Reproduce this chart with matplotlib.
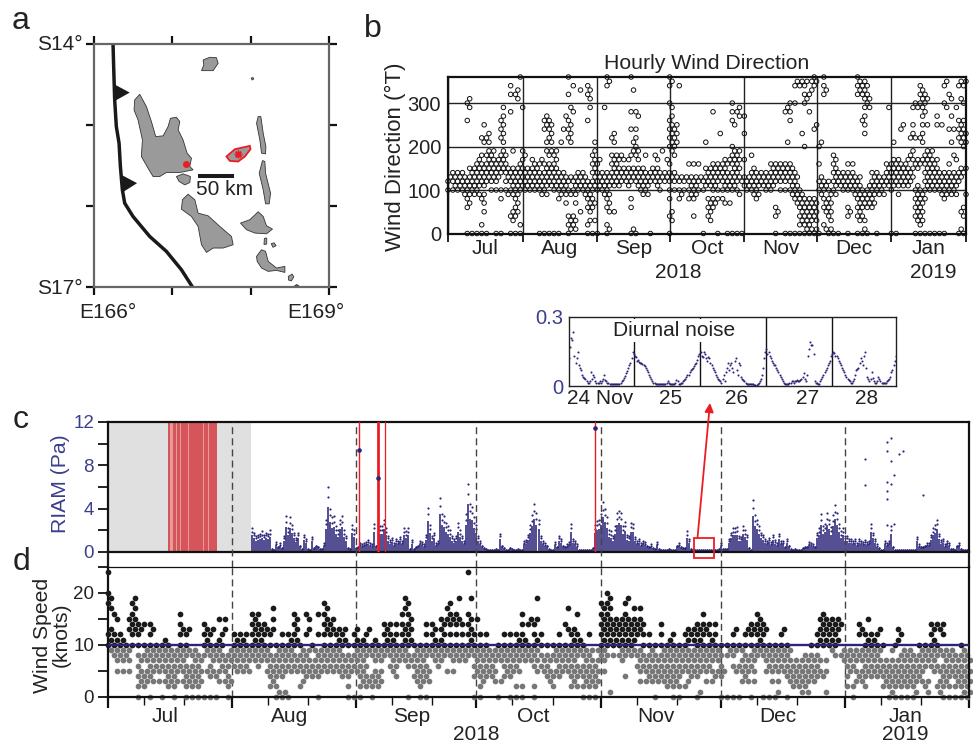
import numpy as np
import matplotlib
matplotlib.use("Agg")
import matplotlib.pyplot as plt
from matplotlib.patches import Polygon, Rectangle, FancyArrowPatch
from matplotlib.ticker import FixedLocator

plt.rcParams['font.family'] = ['Liberation Sans', 'DejaVu Sans']

W, H = 973, 744
BLUE = '#2b2478'
LBL_BLUE = '#3b3f8c'
TXT = '#222222'

MONTH_EDGES = [0, 31, 62, 92, 123, 153, 184, 215]
MONTH_NAMES = ['Jul', 'Aug', 'Sep', 'Oct', 'Nov', 'Dec', 'Jan']

# ---------- map (a), lon / lat ----------
santo = [(166.520,-14.690),(166.584,-14.621),(166.669,-14.773),(166.733,-14.958),(166.788,-15.143),(166.882,-15.134),(166.946,-15.019),(166.976,-14.917),(167.052,-14.904),(167.095,-14.958),(167.074,-15.060),(167.137,-15.184),(167.189,-15.348),(167.244,-15.410),(167.223,-15.512),(167.265,-15.554),(167.095,-15.586),(166.924,-15.586),(166.839,-15.636),(166.754,-15.636),(166.690,-15.533),(166.605,-15.389),(166.618,-15.184),(166.562,-14.937),(166.511,-14.814)]
gaua = [(167.393,-14.197),(167.478,-14.164),(167.563,-14.169),(167.585,-14.238),(167.521,-14.329),(167.372,-14.329),(167.402,-14.259)]
maewo = [(168.096,-14.896),(168.130,-14.896),(168.160,-15.101),(168.194,-15.266),(168.190,-15.356),(168.139,-15.348),(168.117,-15.184),(168.075,-14.978)]
pentecost = [(168.151,-15.439),(168.181,-15.451),(168.190,-15.595),(168.254,-15.841),(168.237,-15.973),(168.190,-15.973),(168.160,-15.800),(168.109,-15.595)]
malo = [(167.052,-15.636),(167.137,-15.603),(167.231,-15.636),(167.223,-15.710),(167.159,-15.739),(167.086,-15.697)]
malekula = [(167.129,-15.923),(167.201,-15.854),(167.287,-15.923),(167.329,-16.088),(167.457,-16.121),(167.606,-16.252),(167.755,-16.376),(167.776,-16.478),(167.649,-16.519),(167.521,-16.519),(167.436,-16.573),(167.372,-16.478),(167.329,-16.252),(167.244,-16.129),(167.116,-16.039)]
ambrym = [(167.870,-16.211),(167.989,-16.170),(168.096,-16.071),(168.160,-16.129),(168.202,-16.244),(168.279,-16.285),(168.202,-16.343),(168.053,-16.334),(167.947,-16.293)]
epi = [(168.075,-16.622),(168.139,-16.540),(168.190,-16.560),(168.224,-16.684),(168.330,-16.766),(168.437,-16.745),(168.437,-16.820),(168.330,-16.795),(168.224,-16.807),(168.139,-16.766),(168.083,-16.684)]
islet_a = [(168.005,-14.420),(168.030,-14.415),(168.040,-14.430),(168.020,-14.445)]
islet_b = [(168.175,-16.400),(168.205,-16.395),(168.205,-16.470),(168.170,-16.475)]
islet_c = [(168.262,-16.465),(168.300,-16.455),(168.325,-16.490),(168.285,-16.510)]
islet_d = [(168.480,-16.870),(168.530,-16.840),(168.550,-16.875),(168.520,-16.925),(168.485,-16.915)]
islet_e = [(168.560,-16.985),(168.590,-16.970),(168.620,-16.990)]
ambae = [(167.691,-15.389),(167.798,-15.299),(167.989,-15.258),(167.998,-15.299),(167.926,-15.389),(167.840,-15.451),(167.734,-15.443)]
trench_lon = [166.243,166.251,166.264,166.285,166.320,166.337,166.362,166.392,166.498,166.711,166.924,167.116,167.257]
trench_lat = [-14.0,-14.279,-14.690,-15.019,-15.225,-15.513,-15.800,-15.965,-16.129,-16.376,-16.560,-16.787,-17.0]
tooth_a = [(166.251,-14.493),(166.456,-14.600),(166.251,-14.711)]
tooth_b = [(166.349,-15.615),(166.550,-15.718),(166.349,-15.841)]
vent_lon, vent_lat = 167.840, -15.360
station_lon, station_lat = 167.180, -15.484
scale_lon = [167.329, 167.785]
scale_lat = [-15.628, -15.628]

# ---------- hourly wind direction (b), tens of degrees, one column every 2 days ----------
direction_tens = [
[10,12,13],[10,11,12,13,14],[10,11,12,13,14],[9,10,11,12,13,14],[31,30,29,26,15,13,12,11,10,9,8,7,6,0],
[15,14,13,12,11,10,9,0],[17,16,15,14,13,12,11,10,9,0],[25,22,21,18,16,15,14,13,12,11,9,8,7,5,2,0],
[23,22,21,19,18,17,16,15,14,13,12,0],[19,18,17,16,15,14,13,12,10],[17,16,15,14,13,12,10,0],
[29,27,26,25,24,23,22,21,19,18,17,16,15,14,10,8,0],[18,16,15,14,13,12,10,9],
[34,32,28,19,15,14,13,12,11,10,9,5,4,3,0],[33,32,31,15,14,13,12,11,10,9,8,7,6,5,4,0],
[36,29,19,17,16,15,14,13,12,11,10,2,0],
[18,15,14,13,12,11,10],[17,15,14,13,12,11,10],[16,15,14,13,12,11,10],[17,16,14,13,12,11,10,9,0],
[27,26,25,24,21,19,16,15,14,13,12,11,10,9,0],[26,25,24,23,22,21,19,18,16,15,14,13,12,11,0],
[19,18,17,16,15,14,13,12,11,10,0],[21,14,13,12,11,10,9,8,0],[27,24,14,13,12,11,10,9,7],
[36,32,29,26,25,24,23,22,21,13,12,10,9,4,3,2,1,0],[34,28,13,12,11,10,9,7,4,3,2,1],[33,14,13,12,11,10,5],
[14,13,12,11,10,9],[34,33,32,31,29,26,12,11,10,9,8,7,6,5,3,2,0],[21,19,18,17,16,15,14,13,12,11,10,8,7,6,3,0],
[17,16,14,13,12,11,10,0],[29,14,13,12,11,10,9],[36,35,34,14,13,12,11,10,9,8,7,6,5,2,1,0],
[23,22,21,18,17,16,15,14,13,12,11,5],[18,17,16,15,14,13,12,11],[18,17,15,14,13,12],[17,15,14,13,12,11],
[36,33,28,24,21,19,18,15,14,13,12,8,6,1,0],[28,27,24,22,20,19,18,17,15,14,13,12,11,0],[15,14,13,12,11,10,9],
[18,14,13,12,11,10,9],[15,14,13,12,0],[18,17,15,14,13,12,11],[19,14,13,12,10],[17,14,13,12],
[36,35,34,30,29,27,26,25,24,23,22,21,20,19,16,14,13,12,10,8,5,4,3,0],[25,24,23,22,21,20,18,14,13,12,10],
[34,13,12,10,9,8],[13,12,10],[16,13,12,11,10,9,8],[16,13,12,11,10,9,8,4],[16,13,12,10],[21,15,13,12,11,10,0],
[15,14,13,12,11,8,7,6,5,4,3],[28,16,15,14,13,12,11,10,8,7,6],[23,16,15,14,13,12,10,8,0],
[17,16,15,14,13,12,11,10,8,7],[17,16,14,13,12,11,10,7,0],[30,28,26,25,20,19,18,17,16,15,14,13,12,11,10,0],
[29,28,27,19,18,17,16,15,14,13,12,10,9,0],[27,23,17,13,12,11,0],
[13,12,11,10],[18,15,14,13,12,11,10,9],[14,13,12,11,10,9,8],[14,13,12,11],[14,13,12,11,10],
[16,15,14,13,12,11,10],[16,15,14,13,12,6,5,4,0],[16,15,14,13,12,10],[29,28,21,16,15,14,13,12,10,0],
[30,28,26,16,15,14,13,12,11,10,9,0],[35,34,30,14,13,12,11,10,9,8,7,0],[35,34,23,10,9,8,7,6,5,4,3,2,0],
[35,34,32,31,30,20,8,7,6,5,4,3,2,1,0],[35,33,32,28,8,7,6,5,4,3,2,1,0],[36,35,34,25,24,8,7,6,5,4,3,1,0],
[21,20,16,13,12,11,10,9,0],[36,34,33,32,12,11,10,8,7,6,5,2,1],[12,10,9,8,7,6,5,4,3,1,0],
[18,17,16,15,14,13,12,11,10,9,0],[14,13,12,11,0],[14,13,12,11,10],[16,14,13,12,11,10,6,5,4,0],
[16,14,13,12,11,10,9],[36,35,34,33,32,13,12,11,10,9,8,7,6,5,4,3,0],[35,34,33,32,31,29,27,26,25,23,10,9,8,7,6,4,3,1,0],
[34,32,31,30,29,11,10,9,8,7,6,0],[14,13,12,11,10,9,8,7,6],[14,13,12,11,10,9,0],[13,12,11,10,9],
[29,16,15,14,13,12,11],[21,17,16,15,14,13,12,11,10,0],[17,16,15,14,13,12,11,9,0],[25,24,16,15,14,13,12,11],
[17,16,15,14,13,12,11],[29,25,23,22,19,18,17,15,14,13,12],[30,29,22,17,16,15,11,10,9,8,7,6,5,4,3,0],
[34,33,32,31,30,29,27,25,23,22,21,17,16,10,9,8,7,6,5,4,3,2,0],[32,31,30,28,25,19,18,17,16,15,14,13,12,11,10,8,0],
[19,18,17,16,15,14,13,12,11,10,0],[27,25,17,16,15,14,13,12,11,10,0],[25,14,13,12,11,10,9,0],
[35,34,30,29,14,13,12,11,10,9,8,0],[32,31,27,24,21,16,14,13,12,11,10,9],[29,24,18,17,14,13,12,11,10,9],
[35,34,31,26,25,24,23,22,21,15,14,13,12,5,1,0],[35,34,30,26,24,23,22,21,20,15,14,9,6,4,0],
]

# ---------- wind speed (d), knots, one column every 1.5 days ----------
speed_columns = [
[24,20,19,18,17,13,12,11,10,9],[16,15,12,11,10,9,8,7,5],[12,11,10,9,8,7,5],[15,13,10,9,8,7,5],
[19,18,17,16,15,14,13,12,10],[14,13,12,10,8,7,6,5,4,3,2,0],[14,10,9,8,7,5,4,3,2],[14,13,12,10,9,8,7,6,5,4,3,0],
[10,9,8,7,6,5,3],[11,10,9,8,7,6,5,3,0],[10,9,8,7,6,5,4,3,2],[9,8,7,6,5,4,3,2,0],[16,14,13,12,10,9,8,7,6,5,3],
[13,12,10,9,8,6,5,4,3,2,0],[9,8,7,6,5,4,3,2,0],[8,7,6,5,4,3,2,0],[14,13,12,11,10,9,8,5,0],[13,12,10,9,8,7,6,5,4,0],
[15,11,10,9,8,7,5,4,3,0],[15,13,12,10,8,7,6,5,3],[9,8,7,6,4,3,2,0],
[12,11,10,9,8,7,6,5],[12,11,10,9,8,7,6,5],[12,10,9,8,7,6,5],[16,15,14,13,12,11,10,9,8,7],[16,14,13,12,11,10,9,8,7,6],
[14,13,12,10,9,8,7,5],[17,15,13,12,10,8,7,6,5,4,3,2],[10,9,8,7,6,5,4,2,1,0],[12,10,9,8,7,6,5,4,1,0],[12,11,10,9,8,7,6,5,0],
[16,15,14,13,12,11,10,8,7,6,5],[10,9,8,7,6,5,3,2],[16,15,13,12,9,8,7,6,5,4],[10,9,7,6,5,4],[16,12,9,8,7,6,5,4,0],
[18,17,16,15,14,13,12,10,9,8,7,6,5],[15,14,13,12,10,9,8,7,6,5],[13,12,11,10,9,8,7,6,5],[13,12,11,10,8,7,6,5,4],
[10,8,7,6,5,4,2,0],[13,12,11,10,9,8,7,6,5,0],
[11,10,9,8,7,6,5,4,3,2,0],[13,12,10,9,8,6,4,3,2],[11,10,9,8,7,5,4,3,2,0],[10,9,8,7,5,4,3,2],[14,13,12,11,10,9,8],
[14,12,11,10,9,8,7,6,5],[14,12,10,9,8,7,6,4],[19,17,16,14,13,12,11,10,9,8,7],[18,16,15,14,13,12,11,10,8,7,6,0],
[10,9,8,7,6,5,4,3],[10,9,8,7,6,5,4,3,2,0],[14,12,10,9,8,6,5,4,3,0],[14,13,12,11,10,9,8,7],[15,13,11,10,9,8,7,6],
[17,15,14,12,10,9,8,5],[18,16,15,14,12,10,9,8,7,5],[19,16,15,14,12,10,9,8,7],[14,12,10,9,8,7],
[24,19,16,15,14,13,12,11,10,9,8],[15,12,10,9,8,7,6,5,4,0],
[12,10,9,8,7,6,5,4,3,2,0],[12,10,9,8,7,6,5,4],[9,8,7,6,5,4,3],[10,9,8,7,3,0],[12,10,9,8,7,6,5,4],[12,10,9,8,7,6,5,4,0],
[12,11,10,9,8,7,6,5,2,0],[16,14,12,11,10,9,8,7,2,0],[15,14,10,9,8,7],[19,15,14,12,11,10,9,8,7,6,5,2,0],[12,10,8,7,6,5],
[10,8,7,6,5,4,3],[10,9,8,7,5,4,2],[12,10,9,8,7,6,5,4],[17,14,13,10,9,8,7,6,5],[13,12,11,10,9,8,7,6,5,4,3,2],
[16,12,11,10,9,8,6,5,4,2],[10,9,8,7,6,5,4,3,2,0],[12,9,8,7,6,5,4,3,2,0],[9,7,6,5,4,3,2,0],
[18,17,16,15,14,13,12,11,10,9,8,7,5],[20,19,18,17,16,15,14,13,12,11,10,8,1],
[15,14,13,12,11,10,8],[15,14,13,12,11,10,9,8,7],[19,18,16,15,14,13,12,11,10,9,8,4],[17,15,14,13,12,11,10,9,8],
[17,15,14,13,12,9,8,7,6,5,3],[14,12,10,8,7,6,5,3],[12,10,9,8,7,6,5,4,3],[10,8,7,6,5,4,3,0],[14,12,10,9,8,7,6,5,4,3],
[11,10,9,8,7,6,5,4,3,2],[12,10,9,8,7,6,5,4,3,2,0],[10,9,8,7,6,5,4,2,0],[13,12,11,10,9,8,7,6,5,3,2],
[13,12,11,9,8,7,6,5,4],[14,13,12,11,10,9,8,7,6,5,4,1,0],[16,14,13,12,10,9,8,7,6,5,3],[14,12,11,10,9,8,7,6,5,3],
[14,12,10,9,8,7,5,4],[10,8,6,5,4,0],
[10,9,8,0],[13,12,10,9,8,6,5,0],[10,9,7,6,5,3,0],[13,12,10,8,7,6,5,4,3],[14,13,12,10,9,8,7,6,5,3,0],
[16,15,14,13,12,11,10,9,8],[14,13,12,10,9,8,7,5,0],[10,9,8,7,6,5,3,0],[10,9,8,7,6,5,3,1,0],[13,12,10,9,8,7,6,5],
[10,9,8,7,6,5,4,3,0],[7,6,5,4,3,2],[7,6,5,4,3,2,1],[8,7,6,5,4,3,2,1],[10,8,7,6,5,4,3],[15,13,12,11,10,8,7,6,5,4],
[16,15,14,13,12,11,10,7,5,4,1],[15,14,13,12,11,10,9],[15,14,13,12,11,10,8],[14,9,8,7],
[9,8,7,6,5,4,2],[9,8,7,6,5,3,2,0],[14,13,12,9,8,7,5,4,3],[15,12,11,10,9,8,7,6,5,4,2],[12,11,10,9,8,7,6,5,4],
[13,12,10,9,8,7,6,5,4],[10,7,6,5,4,3,2],[9,7,6,5,4,3,2,1,0],[13,11,10,7,6,5,4,3,2,0],[12,9,8,7,6,5,4,3,2,0],
[9,8,7,6,5,4,3,2,0],[8,7,6,5,4,3,2,1,0],[10,9,8,7,6,5,4,3],[10,9,8,7,6,3,2,1],[14,13,12,11,10,9,8,7,6,5],
[14,13,10,9,8,6,5,3,2,1],[14,12,9,8,7,6,5,4,3,2,0],[9,8,7,6,5,4,2,0],[8,7,6,5,4,3,2,0],[10,9,8,7,6,5,4,3,2,1,0],
[8,7,6,5,4,3,2,1,0],
]

# ---------- RIAM (c), Pa, peak in each half day from day 36 ----------
riam_peaks = [
2.2,1.8,1.5,1.6,1.7,1.9,1.6,1.8,1.7,2.0,
.3,.2,.9,.5,.8,.4,1.5,3.3,2.2,3.2,
2.5,1.8,1.3,1.8,.6,.3,1.6,1.2,.3,.2,
1.4,.4,.6,.5,.3,.3,.8,3.0,6.0,4.0,
3.2,3.3,2.4,2.0,3.0,3.3,2.0,1.5,.4,.3,
2.5,2.0,.4,.5,.8,.7,.8,.9,1.1,.8,
.7,2.6,.6,.2,2.4,2.4,3.0,2.2,1.5,1.1,
1.3,.8,1.2,1.0,1.4,1.0,2.2,1.9,2.2,.3,
1.1,.3,.5,.6,1.0,.9,.7,1.6,4.1,2.5,
1.5,1.8,.8,1.0,5.0,3.5,3.3,2.7,2.4,2.0,
1.5,1.2,1.5,2.7,2.0,1.5,1.0,3.5,6.3,4.4,
4.2,3.2,2.5,1.5,1.0,.6,.4,.3,.2,.2,
.2,.2,.3,.2,1.7,.6,.4,.2,.2,.4,
.3,.2,.2,.3,.2,.2,1.0,1.1,1.6,2.5,
3.4,4.4,3.6,3.0,1.5,1.0,.8,.6,.3,.2,
.2,.9,.5,1.5,1.2,.6,.5,.7,.9,2.6,
1.2,1.0,.7,.2,.2,.2,.2,.2,.2,.2,
.4,2.5,2.9,3.0,3.5,4.6,4.0,3.2,2.0,1.9,
1.5,2.4,3.6,3.8,3.6,2.4,2.8,1.6,1.5,2.7,
2.6,1.4,1.0,1.2,.8,1.0,.9,.6,.5,.7,
.4,.3,.9,.3,.2,.2,.2,.2,.3,.2,
.2,.2,.6,.8,.5,.4,.4,1.9,1.2,.3,
.2,.2,.2,.2,.2,.2,.2,.2,.2,.2,
.2,.2,.2,.3,.8,.3,.3,.3,1.2,1.8,
2.2,2.2,2.3,1.5,1.4,2.4,2.0,1.6,.4,.2,
4.8,3.4,3.0,2.4,1.8,1.6,1.2,1.0,1.3,.9,
1.6,1.1,.8,1.7,1.0,1.0,.5,1.2,.6,.3,
.2,.3,.2,.2,.2,.4,.5,.5,.9,.8,
.7,.5,1.8,2.2,3.5,2.4,2.6,3.6,3.0,2.3,
3.4,4.3,3.6,2.6,1.9,2.2,1.5,1.5,1.2,1.2,
1.0,1.2,.8,1.2,1.0,.9,1.1,.9,1.0,2.6,
1.8,1.2,.7,.4,.2,.2,1.0,.8,1.0,2.4,
.5,.2,.2,.2,.2,.2,.2,.2,.2,.2,
.2,.2,1.4,.7,.5,.5,.6,.8,.8,1.6,
2.2,2.5,3.0,1.7,1.1,1.2,.7,1.0,.8,.3,
.3,.2,.6,.8,.3,.2,.2,.2,.5,.9,
]
riam_start, riam_step = 36.0, 0.5
outlier_days = [189.0,189.0,194.5,195.5,194.5,197.4,198.5,195.5,196.2,194.5,195.5,194.5,194.5,203.5,194.5,196.2]
outlier_vals = [8.6,6.2,10.2,10.55,9.3,9.05,9.3,8.4,7.1,6.5,6.3,5.6,4.9,5.3,2.5,2.55]
event_days = [62.6, 67.5, 69.2, 121.6]
event_lw = [1.0, 2.0, 0.9, 1.0]
event_dot_days = [62.6, 67.5, 121.6]
event_dot_vals = [9.4, 6.85, 11.45]
gap_end_day = 35.75
swarm_extent = (15.08, 27.15)
swarm_start = [15.08,16.2,17.2,18.2,20.25,22.8,24.0,25.3]
swarm_width = [0.3,0.75,0.67,1.9,2.4,1.0,1.0,1.85]
zoom_days = (146.3, 151.25)
zoom_vals = (-0.58, 1.3)

# ---------- diurnal noise inset, Pa, 30 samples a day plus a second interleaved set ----------
inset_day1 = [.12,.21,.235,.10,.15,.08,.05,.035,.02,.015,.06,.05,.02,.015,.02,.02,.05,.02,.015,.01,.01,.01,.01,.01,.02,.035,.055,.08,.1,.15]
inset_day2 = [.13,.11,.105,.10,.09,.08,.06,.04,.02,.015,.01,.01,.01,.01,.01,.02,.01,.01,.01,.025,.01,.015,.02,.03,.05,.06,.075,.085,.1,.13]
inset_day3 = [.15,.125,.14,.11,.12,.09,.07,.05,.03,.02,.03,.02,.08,.07,.1,.06,.12,.05,.09,.03,.02,.01,.01,.01,.01,.005,.01,.02,.05,.12]
inset_day4 = [.16,.15,.12,.1,.09,.07,.05,.03,.015,.01,.01,.015,.02,.02,.025,.02,.03,.055,.02,.13,.19,.18,.02,.015,.01,.03,.05,.07,.09,.11]
inset_day5 = [.14,.145,.13,.11,.09,.07,.05,.03,.02,.015,.03,.07,.08,.12,.09,.15,.04,.02,.06,.02,.015,.04,.02,.015,.015,.02,.03,.06,.09,.13]
inset_more1 = [.17,.2,.13,.12,.09,.07,.04,.03,.015,.02,.03,.04,.015,.015,.015,.03,.025,.015,.01,.01,.01,.01,.01,.015,.025,.045,.065,.09,.12,.14]
inset_more2 = [.125,.115,.1,.095,.085,.07,.05,.03,.015,.01,.01,.01,.01,.01,.015,.015,.01,.01,.015,.02,.01,.015,.025,.04,.05,.07,.08,.095,.115,.14]
inset_more3 = [.13,.15,.12,.125,.1,.08,.06,.04,.025,.015,.05,.06,.1,.09,.08,.11,.07,.1,.04,.025,.015,.01,.01,.01,.005,.005,.015,.03,.08,.15]
inset_more4 = [.14,.13,.11,.09,.08,.06,.04,.02,.01,.01,.015,.02,.015,.02,.02,.025,.04,.03,.05,.16,.18,.14,.015,.01,.02,.04,.06,.08,.1,.13]
inset_more5 = [.15,.13,.12,.1,.08,.06,.04,.025,.015,.02,.05,.075,.1,.11,.13,.08,.03,.03,.035,.015,.02,.03,.015,.015,.015,.025,.04,.07,.11,.1]
inset_labels = ['24 Nov', '25', '26', '27', '28']


def axes_px(fig, l, t, r, b):
    return fig.add_axes([l / W, 1 - b / H, (r - l) / W, (b - t) / H])


def ftext(fig, x, y, s, **kw):
    kw.setdefault('ha', 'center')
    kw.setdefault('va', 'center')
    kw.setdefault('color', TXT)
    kw.setdefault('fontsize', 15)
    return fig.text(x / W, 1 - y / H, s, **kw)


fig = plt.figure(figsize=(W / 100, H / 100), dpi=100)

# ---- panel a
ax = axes_px(fig, 94, 44, 329, 287)
ax.set_xlim(166, 169)
ax.set_ylim(-17, -14)
for poly in (santo, gaua, maewo, pentecost, malo, malekula, ambrym, epi, islet_a, islet_b, islet_c, islet_d, islet_e):
    ax.add_patch(Polygon(poly, closed=True, fc='#9a9a9a', ec='#333333', lw=0.6))
ax.add_patch(Polygon(ambae, closed=True, fc='#9a9a9a', ec='#ec1c24', lw=1.3))
ax.plot(trench_lon, trench_lat, color='#1a1a1a', lw=2.5, solid_capstyle='butt')
for t in (tooth_a, tooth_b):
    ax.add_patch(Polygon(t, closed=True, fc='#1a1a1a', ec='none'))
ax.plot(scale_lon, scale_lat, color='#1a1a1a', lw=2.9, solid_capstyle='butt')
ax.plot([station_lon], [station_lat], 'o', color='#ec1c24', ms=5, mec='none')
ax.plot([vent_lon], [vent_lat], marker=(8, 2, 0), color='#ec1c24', ms=5.5, mew=1)
ax.text(167.67, -15.80, '50 km', ha='center', va='center', fontsize=15, color=TXT)
ax.set_xticks([166, 167, 168, 169])
ax.set_yticks([-17, -16, -15, -14])
ax.tick_params(which='major', direction='out', length=6, width=1.6, color='#111111',
               top=True, right=True, labelbottom=False, labelleft=False)
for s in ax.spines.values():
    s.set_linewidth(1.6)
    s.set_color('#666666')
ftext(fig, 83, 45, 'S14°', ha='right')
ftext(fig, 83, 288, 'S17°', ha='right')
ftext(fig, 108, 312, 'E166°')
ftext(fig, 316, 312, 'E169°')

# ---- panel b
ax = axes_px(fig, 448, 77, 966, 233.5)
ax.set_xlim(0, 215)
ax.set_ylim(0, 360)
bx, by = [], []
for i, col in enumerate(direction_tens):
    for v in col:
        bx.append(i * 2.0 + (v % 2))
        by.append(v * 10)
ax.scatter(bx, by, s=10.5, facecolors='none', edgecolors='#111111', linewidths=0.7, clip_on=False, zorder=3)
ax.set_yticks([0, 100, 200, 300])
ax.set_xticks(MONTH_EDGES)
ax.set_xticklabels([])
ax.xaxis.set_minor_locator(FixedLocator([(a + b) / 2 for a, b in zip(MONTH_EDGES[:-1], MONTH_EDGES[1:])]))
ax.set_xticklabels(MONTH_NAMES, minor=True, fontsize=15, color=TXT)
ax.tick_params(axis='x', which='minor', length=0, pad=4)
ax.tick_params(axis='x', which='major', length=6, width=1.3, color='#111111')
ax.tick_params(axis='y', length=0, labelsize=14.5, labelcolor=TXT, pad=5)
ax.grid(True, which='major', color='#222222', lw=1.0)
ax.set_axisbelow(True)
for s in ax.spines.values():
    s.set_linewidth(1.6)
    s.set_color('#111111')
ax.set_title('Hourly Wind Direction', fontsize=15.3, color=TXT, pad=6)
ftext(fig, 395, 157, 'Wind Direction (°T)', rotation=90, fontsize=16)
ftext(fig, 678, 272, '2018')
ftext(fig, 933, 272, '2019')

# ---- inset
ax = axes_px(fig, 569, 317, 896, 386)
ax.set_xlim(0, 4.97)
ax.set_ylim(0, 0.3)
inset_vals = inset_day1 + inset_day2 + inset_day3 + inset_day4 + inset_day5
inset_vals2 = inset_more1 + inset_more2 + inset_more3 + inset_more4 + inset_more5
ax.scatter(np.arange(len(inset_vals)) / 30.0, inset_vals, s=2.2, color=BLUE, linewidths=0, zorder=2)
ax.scatter((np.arange(len(inset_vals2)) + 0.5) / 30.0, inset_vals2, s=2.2, color=BLUE, linewidths=0, zorder=2)
ax.set_yticks([0, 0.3])
ax.set_yticklabels(['0', '0.3'], fontsize=14.5, color=LBL_BLUE)
ax.set_xticks([0.47, 1.54, 2.54, 3.62, 4.52])
ax.set_xticklabels(inset_labels, fontsize=15, color=TXT)
ax.tick_params(length=0, pad=2)
ax.tick_params(axis='y', pad=4)
for d in (1, 2, 3, 4):
    ax.axvline(d - 0.01, color='#111111', lw=1.0, zorder=1)
for s in ax.spines.values():
    s.set_linewidth(1.0)
    s.set_color('#222222')
ax.text(1.6, 0.24, 'Diurnal noise', fontsize=15, color=TXT, ha='center', va='center',
        bbox=dict(fc='white', ec='none', pad=1.5), zorder=4)

# ---- panel c
axc = axes_px(fig, 108, 422, 969, 552)
axc.set_xlim(0, 215)
axc.set_ylim(0, 12)
axc.axvspan(0, gap_end_day, color='#e0e0e0', lw=0, zorder=0)
axc.axvspan(swarm_extent[0], swarm_extent[1], color='#e59a9c', lw=0, zorder=1)
for st, wd in zip(swarm_start, swarm_width):
    axc.axvspan(st, st + wd, color='#d6555b', lw=0, zorder=1)
riam_y = np.array(riam_peaks)
riam_x = riam_start + riam_step * np.arange(len(riam_y))
axc.vlines(riam_x, 0, riam_y * 0.7, color=BLUE, lw=1.15, zorder=2)
axc.scatter(riam_x, riam_y, s=2.5, color=BLUE, linewidths=0, zorder=2)
axc.scatter(riam_x, riam_y * 0.85, s=2.5, color=BLUE, linewidths=0, zorder=2)
axc.scatter(outlier_days, outlier_vals, s=2.5, color=BLUE, linewidths=0, zorder=2)
for d, lw in zip(event_days, event_lw):
    axc.axvline(d, color='#ec1c24', lw=lw, zorder=3)
axc.scatter(event_dot_days, event_dot_vals, s=11, color=BLUE, linewidths=0, zorder=4)
for d in MONTH_EDGES[1:-1]:
    axc.plot([d, d], [-1.36, 12], color='#444444', lw=1.0, ls=(0, (5, 3)), clip_on=False, zorder=5)
axc.add_patch(Rectangle((zoom_days[0], zoom_vals[0]), zoom_days[1] - zoom_days[0], zoom_vals[1] - zoom_vals[0],
                        fc='none', ec='#ec1c24', lw=1.3, clip_on=False, zorder=6))
for d in (0, 215):
    axc.plot([d, d], [-1.36, 0], color='#1a1a1a', lw=1.6, clip_on=False, zorder=6)
axc.set_xticks([])
axc.set_yticks([0, 4, 8, 12])
axc.yaxis.set_minor_locator(FixedLocator([2, 6, 10]))
axc.tick_params(axis='y', which='both', length=7, width=1.3, color='#111111')
axc.tick_params(axis='y', which='major', labelsize=13.5, labelcolor=LBL_BLUE, pad=3)
for s in axc.spines.values():
    s.set_linewidth(1.6)
    s.set_color('#111111')
ftext(fig, 60, 484, 'RIAM (Pa)', rotation=90, color=LBL_BLUE, fontsize=15.2)

# ---- panel d
axd = axes_px(fig, 108, 566.7, 969, 696.7)
axd.set_xlim(0, 215)
axd.set_ylim(0, 25)
sx, sy = [], []
for i, col in enumerate(speed_columns):
    for v in col:
        sx.append(i * 1.5 + (v % 2) * 0.75)
        sy.append(v)
sx = np.array(sx)
sy = np.array(sy)
low = sy < 10
axd.scatter(sx[low], sy[low], s=17, color='#777777', linewidths=0, clip_on=False, zorder=2)
axd.scatter(sx[~low], sy[~low], s=17, color='#1a1a1a', linewidths=0, clip_on=False, zorder=3)
axd.axhline(10, color=BLUE, lw=1.7, zorder=4)
for d in MONTH_EDGES[1:-1]:
    axd.axvline(d, color='#444444', lw=1.0, ls=(0, (5, 3)), zorder=1)
axd.set_yticks([0, 10, 20])
axd.yaxis.set_minor_locator(FixedLocator([5, 15, 25]))
axd.tick_params(axis='y', which='both', length=7, width=1.3, color='#111111')
axd.tick_params(axis='y', which='major', labelsize=13.5, labelcolor=TXT, pad=3)
minor_days = []
for start in MONTH_EDGES[:-1]:
    minor_days += [start + 9, start + 19]
axd.set_xticks(MONTH_EDGES)
axd.set_xticklabels([])
axd.xaxis.set_minor_locator(FixedLocator(minor_days))
axd.tick_params(axis='x', which='major', length=8, width=1.6, color='#111111')
axd.tick_params(axis='x', which='minor', length=5.5, width=1.0, color='#111111')
for d0, d1, name in zip(MONTH_EDGES[:-1], MONTH_EDGES[1:], MONTH_NAMES):
    ftext(fig, 108 + (d0 + d1) / 2 * 861 / 215 + (-5 if name != 'Jan' else -1), 717, name)
for name, s in axd.spines.items():
    s.set_linewidth(1.6 if name != 'top' else 0.9)
    s.set_color('#111111')
ftext(fig, 52, 635, 'Wind Speed\n(knots)', rotation=90, fontsize=15.2, linespacing=0.95)
ftext(fig, 476, 735, '2018')
ftext(fig, 905, 735, '2019')

# ---- arrow from zoom box to inset
fig.add_artist(FancyArrowPatch((697.5 / W, 1 - 538 / H), (710 / W, 1 - 403 / H), transform=fig.transFigure,
                               arrowstyle='-|>', mutation_scale=13, color='#ec1c24', lw=1.3,
                               shrinkA=0, shrinkB=0))

# ---- panel letters
for x, y, s in [(21, 21, 'a'), (373, 29, 'b'), (21, 420, 'c'), (21, 562, 'd')]:
    ftext(fig, x, y, s, fontsize=23)

fig.savefig('out.png', dpi=100)
